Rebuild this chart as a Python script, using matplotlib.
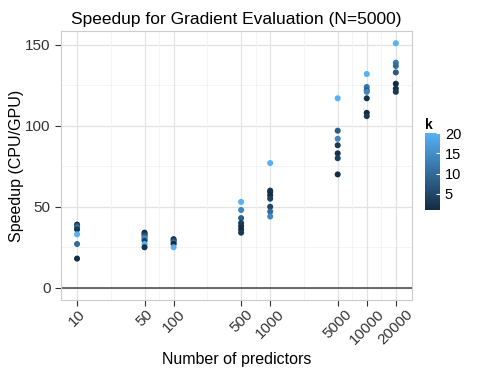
import numpy as np
import matplotlib
matplotlib.use('Agg')
import matplotlib.pyplot as plt
from matplotlib.colors import LinearSegmentedColormap

plt.rcParams['font.family'] = ['Liberation Sans', 'DejaVu Sans']

# data: predictors, speedup, k
p10 = [39, 38, 37, 36, 33, 27, 18]
p50 = [34, 33, 32, 31, 30, 29, 27, 25]
p100 = [30, 29, 28, 27, 25]
p500 = [53, 48, 43, 40, 38, 36, 34]
p1000 = [77, 60, 59, 57, 55, 50, 47, 44]
p5000 = [117, 97, 92, 88, 83, 80, 70]
p10000 = [132, 124, 122, 121, 117, 108, 106]
p20000 = [151, 139, 137, 133, 126, 123, 121]

k10 = [2, 8, 12, 3, 20, 10, 1]
k50 = [1, 3, 6, 12, 15, 4, 20, 2]
k100 = [2, 5, 10, 1, 20]
k500 = [20, 14, 8, 4, 2, 1, 3]
k1000 = [20, 3, 2, 1, 4, 5, 10, 14]
k5000 = [20, 8, 14, 3, 2, 4, 1]
k10000 = [20, 12, 8, 14, 2, 1, 3]
k20000 = [20, 12, 10, 8, 1, 2, 3]

preds = [10, 50, 100, 500, 1000, 5000, 10000, 20000]
speed = [p10, p50, p100, p500, p1000, p5000, p10000, p20000]
kvals = [k10, k50, k100, k500, k1000, k5000, k10000, k20000]

xs, ys, ks = [], [], []
for p, s, k in zip(preds, speed, kvals):
    xs += [p] * len(s)
    ys += s
    ks += k

cmap = LinearSegmentedColormap.from_list('gg', ['#132B43', '#56B1F7'])

fig = plt.figure(figsize=(4.85, 3.74), dpi=100)
ax = fig.add_axes([0.126, 0.198, 0.723, 0.719])

lx = np.log10(preds)
lo, hi = lx[0], lx[-1]
pad = (hi - lo) * 0.05
ax.set_xlim(10 ** (lo - pad), 10 ** (hi + pad))
ax.set_xscale('log')
ax.set_ylim(-7.55, 158.55)

# grid like ggplot
for v in [25, 75, 125]:
    ax.axhline(v, color='#f3f3f3', lw=0.6, zorder=0)
for v in [0, 50, 100, 150]:
    ax.axhline(v, color='#e3e3e3', lw=0.9, zorder=0)
for a, b in zip(lx[:-1], lx[1:]):
    ax.axvline(10 ** ((a + b) / 2), color='#f3f3f3', lw=0.6, zorder=0)
for p in preds:
    ax.axvline(p, color='#e3e3e3', lw=0.9, zorder=0)

ax.axhline(0, color='#444444', lw=1.1, zorder=1)

sc = ax.scatter(xs, ys, c=ks, cmap=cmap, vmin=1, vmax=20, s=19,
                linewidths=0, zorder=3)

ax.set_xticks(preds)
ax.set_xticklabels([str(p) for p in preds], rotation=45, fontsize=11,
                   ha='center')
ax.minorticks_off()
ax.set_yticks([0, 50, 100, 150])
ax.tick_params(axis='y', labelsize=11)
ax.tick_params(colors='#333333', length=4, width=0.8)
ax.tick_params(axis='x', pad=1)
for s in ax.spines.values():
    s.set_color('#cccccc')

ax.set_xlabel('Number of predictors', fontsize=11.5, labelpad=4)
ax.set_ylabel('Speedup (CPU/GPU)', fontsize=11.5, labelpad=1)
ax.set_title('Speedup for Gradient Evaluation (N=5000)', fontsize=12.5, pad=5)

cax = fig.add_axes([425 / 485, (374 - 210) / 374, 15 / 485, 77 / 374])
cb = fig.colorbar(sc, cax=cax, ticks=[5, 10, 15, 20])
cb.outline.set_visible(False)
cb.ax.tick_params(labelsize=10.5, length=3, color='white', direction='in')
cax.set_title('k', fontsize=10, fontweight='bold', loc='left', pad=3)

fig.savefig('out.png', dpi=100)
